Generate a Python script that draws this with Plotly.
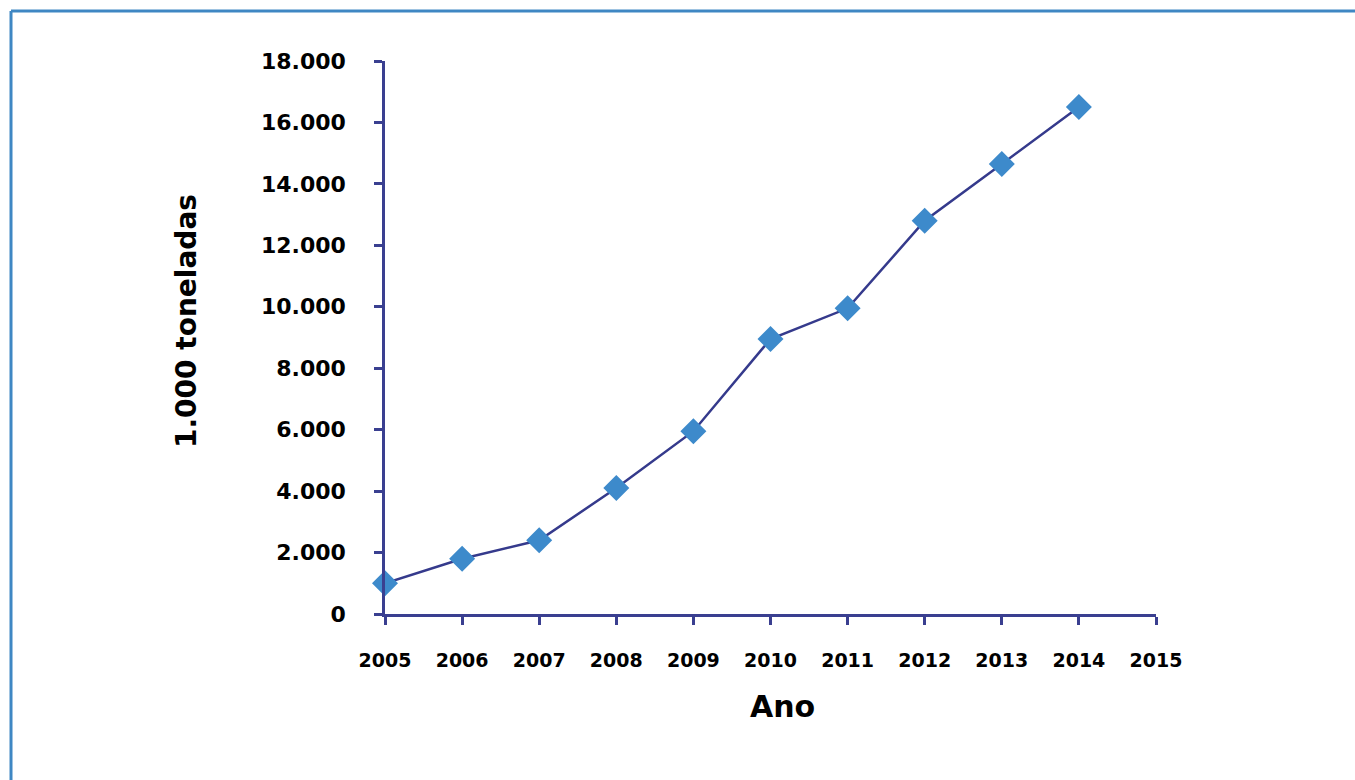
import plotly.graph_objects as go

# Production by year (thousand tonnes)
anos = [2005, 2006, 2007, 2008, 2009, 2010, 2011, 2012, 2013, 2014]
producao = [1000, 1800, 2400, 4100, 5950, 8950, 9950, 12800, 14650, 16500]

x_ticks = list(range(2005, 2016))
y_ticks = list(range(0, 18001, 2000))

AXIS_COLOR = "#3a3f90"
LINE_COLOR = "#353a8c"
MARKER_COLOR = "#3d8acb"
FRAME_COLOR = "#3f87c3"
FONT = "DejaVu Sans"

W, H = 1355, 780
L, R, T, B = 385, 199, 61, 166
pw, ph = W - L - R, H - T - B


def px_x(p):
    return (p - L) / pw


def px_y(p):
    return (H - B - p) / ph


fig = go.Figure()
fig.add_trace(go.Scatter(
    x=anos, y=producao, mode="lines+markers",
    line=dict(color=LINE_COLOR, width=2.5),
    marker=dict(symbol="diamond", size=20, color=MARKER_COLOR,
                line=dict(width=0)),
    cliponaxis=False, showlegend=False,
))

fig.update_layout(
    width=W, height=H,
    margin=dict(l=L, r=R, t=T, b=B),
    paper_bgcolor="white", plot_bgcolor="white",
    separators=",.",
    font=dict(family=FONT, color="black"),
    xaxis=dict(
        range=[2005, 2015], tickvals=x_ticks, tickformat="d",
        showgrid=False, zeroline=False,
        showline=True, linecolor=AXIS_COLOR, linewidth=2.5,
        ticks="outside", ticklen=8, tickwidth=2.5, tickcolor=AXIS_COLOR,
        tickfont=dict(family=FONT, size=19, color="black", weight="bold"),
        ticklabelstandoff=19,
    ),
    yaxis=dict(
        range=[0, 18000], tickvals=y_ticks, tickformat=",.0f",
        showgrid=False, zeroline=False,
        showline=True, linecolor=AXIS_COLOR, linewidth=2.5,
        ticks="outside", ticklen=8, tickwidth=2.5, tickcolor=AXIS_COLOR,
        tickfont=dict(family=FONT, size=22, color="black", weight="bold"),
        ticklabelstandoff=24,
    ),
    annotations=[
        dict(text="<b>1.000 toneladas</b>", textangle=-90,
             xref="paper", yref="paper", x=px_x(186), y=px_y(321),
             xanchor="center", yanchor="middle", showarrow=False,
             font=dict(family=FONT, size=28, color="black")),
        dict(text="<b>Ano</b>",
             xref="paper", yref="paper", x=px_x(782), y=px_y(706),
             xanchor="center", yanchor="middle", showarrow=False,
             font=dict(family=FONT, size=30, color="black")),
    ],
    shapes=[
        dict(type="line", xref="paper", yref="paper",
             x0=px_x(11), y0=px_y(11), x1=px_x(1365), y1=px_y(11),
             line=dict(color=FRAME_COLOR, width=3)),
        dict(type="line", xref="paper", yref="paper",
             x0=px_x(11), y0=px_y(11), x1=px_x(11), y1=px_y(800),
             line=dict(color=FRAME_COLOR, width=3)),
    ],
)

fig.write_html("out.html")
